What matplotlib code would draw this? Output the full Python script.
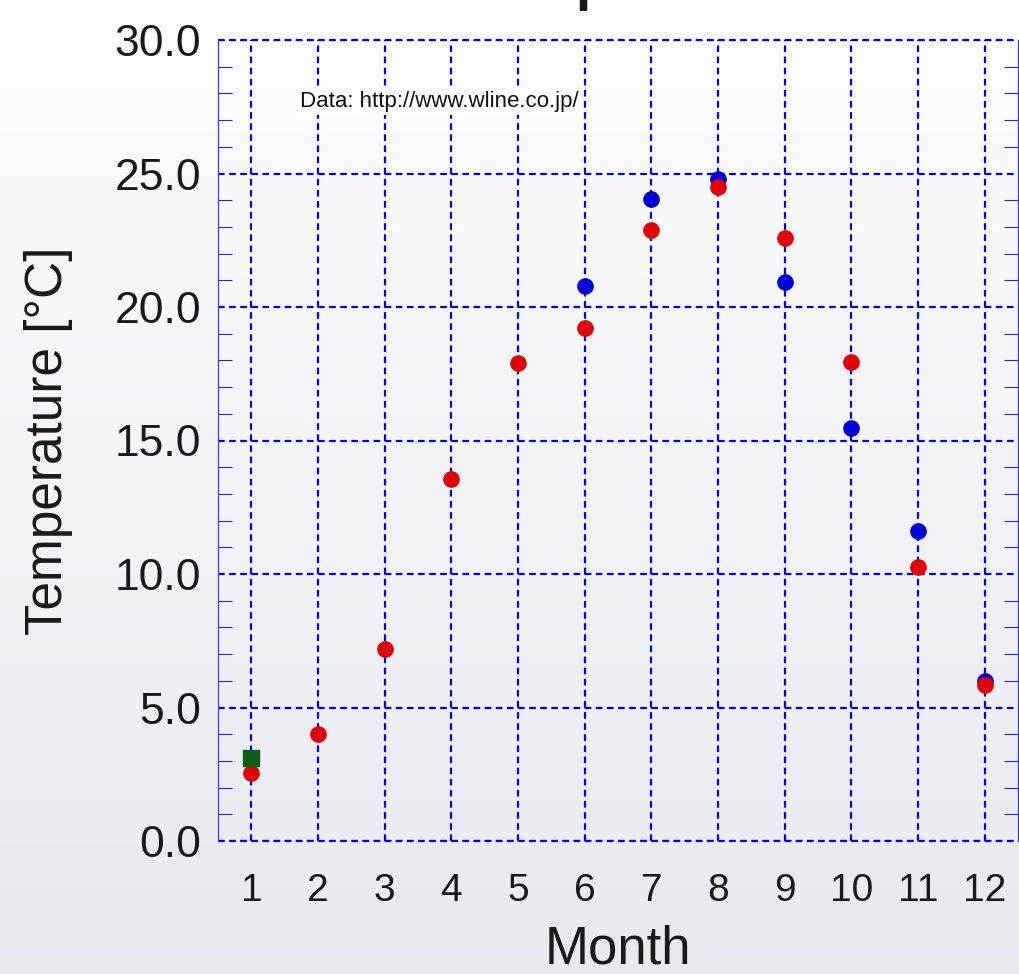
import numpy as np
import matplotlib
matplotlib.use("Agg")
import matplotlib.pyplot as plt
from matplotlib.ticker import MultipleLocator, FormatStrFormatter

plt.rcParams['font.family'] = ['Liberation Sans', 'DejaVu Sans']

months = [1, 2, 3, 4, 5, 6, 7, 8, 9, 10, 11, 12]
red_vals = [2.55, 4.0, 7.2, 13.55, 17.9, 19.2, 22.9, 24.5, 22.6, 17.95, 10.25, 5.85]
blue_months = [6, 7, 8, 9, 10, 11, 12]
blue_vals = [20.8, 24.05, 24.8, 20.95, 15.45, 11.6, 6.0]
green_months = [1]
green_vals = [3.1]
source_text = "Data: http://www.wline.co.jp/"
title_text = "Temperature"

BLUE = '#0000dd'
fig = plt.figure(figsize=(10.19, 9.74), dpi=100)

# background gradient
bg = fig.add_axes([0, 0, 1, 1], zorder=-10)
grad = np.linspace(0, 1, 256)[:, None]
top = np.array([0.995, 0.995, 1.0])
bot = np.array([0.91, 0.915, 0.94])
img = top[None, None, :] * (1 - grad[:, :, None]) + bot[None, None, :] * grad[:, :, None]
bg.imshow(img, aspect='auto', extent=[0, 1, 0, 1])
bg.set_axis_off()

ax = fig.add_axes([218 / 1019, 1 - 841 / 974, 800 / 1019, 801 / 974])
ax.patch.set_alpha(0)
ax.set_xlim(0.5, 12.5)
ax.set_ylim(0, 30)

ax.xaxis.set_major_locator(MultipleLocator(1))
ax.yaxis.set_major_locator(MultipleLocator(5))
ax.yaxis.set_minor_locator(MultipleLocator(1))
ax.yaxis.set_major_formatter(FormatStrFormatter('%.1f'))
ax.set_xticks(months)
ax.set_xticklabels([str(m) for m in months])

ax.grid(True, which='major', color=BLUE, linestyle=(0, (3, 2)), linewidth=1.6)
ax.set_axisbelow(True)
for s in ['top', 'bottom']:
    ax.spines[s].set_visible(False)
for s in ['left', 'right']:
    ax.spines[s].set_color('#3a3aff')
    ax.spines[s].set_linewidth(0.9)
for yv in [0, 30]:
    ax.axhline(yv, color=BLUE, linestyle=(0, (3, 2)), linewidth=1.6, clip_on=False, zorder=1)

ax.tick_params(which='major', length=0, colors='#1a1a1a')
ax.tick_params(axis='y', which='major', pad=12, labelsize=32)
ax.tick_params(axis='x', which='major', pad=23, labelsize=28)
ax.tick_params(axis='y', which='minor', direction='in', left=True, right=True,
               length=10, width=0.8, color='#2222ee')

ax.plot(blue_months, blue_vals, 'o', color='#0000d6', markersize=11, zorder=3, clip_on=False)
ax.plot(months, red_vals, 'o', color='#e00000', markersize=11, zorder=4, clip_on=False)
ax.plot(green_months, green_vals, 's', color='#066018', markersize=11, zorder=5, clip_on=False)

ax.text(1.73, 27.68, source_text, fontsize=16, va='center', ha='left', color='#111111',
        bbox=dict(facecolor='white', edgecolor='none', pad=2), zorder=6)

ax.set_ylabel(title_text + " [°C]", fontsize=37, color='#1a1a1a', labelpad=30)
ax.set_xlabel("Month", fontsize=38, color='#1a1a1a', labelpad=11)

fig.text(0.62, 1 + 1 / 974, title_text, fontsize=40, fontweight='bold', ha='center',
         va='baseline', color='#1a1a1a')

fig.savefig('out.png', dpi=100)
